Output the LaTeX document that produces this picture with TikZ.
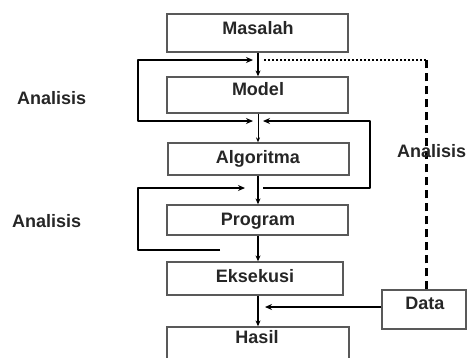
\documentclass[tikz,border=0pt]{standalone}
\usepackage{fontspec}
\setmainfont{Liberation Sans}
\usetikzlibrary{arrows.meta}
\tikzset{looptip/.tip={Stealth[length=7pt,width=6pt]}}
\begin{document}
\begin{tikzpicture}[x=1pt,y=-1pt,
  box/.style={draw=black!65,line width=1.3pt,fill=white,rectangle,inner sep=0pt},
  lbl/.style={font=\fontsize{18}{20}\selectfont\bfseries,text=black!85,inner sep=0pt,anchor=base},
  side/.style={font=\fontsize{18}{20}\selectfont\bfseries,text=black!85,inner sep=0pt,anchor=base west},
  flow/.style={line width=1.8pt,-{Stealth[length=6pt,width=5pt]}},
  thinflow/.style={line width=0.9pt,-{Stealth[length=5pt,width=4pt]}},
  loopline/.style={line width=2.6pt,line join=round}
]
\useasboundingbox (0,0) rectangle (467,357);
\fill[white] (0,0) rectangle (467,357);
\coordinate (axis) at (258,0);
% boxes
\node[box,minimum width=181pt,minimum height=38pt] (masalah) at (257.5,33) {};
\node[box,minimum width=181pt,minimum height=36pt] (model) at (257.5,95) {};
\node[box,minimum width=181pt,minimum height=32pt] (algoritma) at (258.5,159) {};
\node[box,minimum width=181pt,minimum height=30pt] (program) at (257.5,220) {};
\node[box,minimum width=176pt,minimum height=33pt] (eksekusi) at (255,278.5) {};
\node[box,minimum width=182pt,minimum height=40pt] (hasil) at (258,347) {};
\node[box,minimum width=84pt,minimum height=39pt] (data) at (424,309.5) {};
% texts
\node[lbl] (tmasalah) at (258,34) {Masalah};
\node[lbl] (tmodel) at (258,95) {Model};
\node[lbl] (talgoritma) at (258,163) {Algoritma};
\node[lbl] (tprogram) at (258,225) {Program};
\node[lbl] (teksekusi) at (255,282) {Eksekusi};
\node[lbl] (thasil) at (257,343) {Hasil};
\node[lbl] (tdata) at (425,309) {Data};
\node[side] (an1) at (17,104) {Analisis};
\node[side] (an2) at (12,227) {Analisis};
% main flow
\draw[flow] (masalah.south -| axis) -- (model.north -| axis);
\draw[thinflow] (model.south -| axis) -- (algoritma.north -| axis);
\draw[flow] (algoritma.south -| axis) -- (program.north -| axis);
\draw[flow] (program.south -| axis) -- (eksekusi.north -| axis);
\draw[flow] (eksekusi.south -| axis) -- (hasil.north -| axis);
% loops
\coordinate (l1t) at (253,60);
\coordinate (l1b) at (253,121);
\draw[loopline,looptip-looptip] (l1t) -- (138,60) -- (138,121) -- (l1b);
\coordinate (r1s) at (263,188);
\coordinate (r1e) at (263,121);
\draw[loopline,-looptip] (r1s) -- (370,188) -- (370,121) -- (r1e);
\coordinate (l2s) at (220,250);
\coordinate (l2e) at (245,188);
\draw[loopline,-looptip] (l2s) -- (138,250) -- (138,188) -- (l2e);
% data
\coordinate (dtip) at (265,307);
\draw[line width=1.8pt,-looptip] (data.west |- dtip) -- (dtip);
\coordinate (dcorner) at (426,60);
\coordinate (dend) at (263,60);
\draw[line width=3pt,dash pattern=on 8pt off 5pt] (data.north -| dcorner) -- ([yshift=4pt]dcorner);
\draw[line width=2pt,dash pattern=on 2pt off 2pt] (dcorner) -- (dend);
\node[side] (an3) at (397,157) {Analisis};
\end{tikzpicture}
\end{document}
